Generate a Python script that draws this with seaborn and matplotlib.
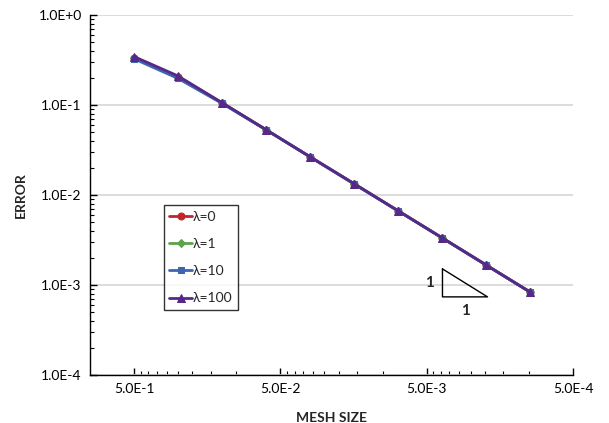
import matplotlib
matplotlib.use("Agg")
import matplotlib.pyplot as plt
import matplotlib.ticker as mticker
import seaborn as sns
import numpy as np

# ---- data ----
mesh_size = [0.5, 0.25, 0.125, 0.0625, 0.03125, 0.015625, 0.0078125,
             0.00390625, 0.001953125, 0.0009765625]
err_lam0 = [0.335, 0.205, 0.105, 0.053, 0.0265, 0.0133, 0.00665, 0.00333, 0.00166, 0.00083]
err_lam1 = [0.336, 0.206, 0.105, 0.053, 0.0265, 0.0133, 0.00665, 0.00333, 0.00166, 0.00083]
err_lam10 = [0.326, 0.197, 0.104, 0.0528, 0.0264, 0.0132, 0.00663, 0.00332, 0.00166, 0.00083]
err_lam100 = [0.345, 0.210, 0.106, 0.0531, 0.0265, 0.0133, 0.00665, 0.00333, 0.00166, 0.00083]
series_labels = ["λ=0", "λ=1", "λ=10", "λ=100"]
x_tick_vals = [5e-1, 5e-2, 5e-3, 5e-4]
x_tick_labels = ["5.0E-1", "5.0E-2", "5.0E-3", "5.0E-4"]
y_tick_vals = [1e0, 1e-1, 1e-2, 1e-3, 1e-4]
y_tick_labels = ["1.0E+0", "1.0E-1", "1.0E-2", "1.0E-3", "1.0E-4"]

sns.set_style("white")
plt.rcParams['font.family'] = ['Lato', 'DejaVu Sans']

fig = plt.figure(figsize=(6.09, 4.23), dpi=100)
ax = fig.add_axes([90/609, 48/423, 483/609, 360/423])

colors = ["#C0272D", "#5EA34A", "#3E65B2", "#56288A"]
markers = ["o", "D", "s", "^"]
msizes = [5, 4, 5, 5.5]
all_err = [err_lam0, err_lam1, err_lam10, err_lam100]

for err, lab, c, m, ms in zip(all_err, series_labels, colors, markers, msizes):
    sns.lineplot(x=mesh_size, y=err, ax=ax, color=c, marker=m, markersize=ms,
                 markeredgecolor=c, linewidth=2.0, label=lab, zorder=3)

ax.set_xscale("log")
ax.set_yscale("log")
ax.set_xlim(1.0, 5e-4)
ax.set_ylim(1e-4, 1e0)

# ticks
ax.xaxis.set_major_locator(mticker.FixedLocator(x_tick_vals))
ax.xaxis.set_major_formatter(mticker.FixedFormatter(x_tick_labels))
xminor = []
for base in [5e-1, 5e-2, 5e-3]:
    xminor += [base - k * base / 10 for k in range(1, 10)]
ax.xaxis.set_minor_locator(mticker.FixedLocator(xminor))
ax.xaxis.set_minor_formatter(mticker.NullFormatter())

ax.yaxis.set_major_locator(mticker.FixedLocator(y_tick_vals))
ax.yaxis.set_major_formatter(mticker.FixedFormatter(y_tick_labels))
ax.yaxis.set_minor_locator(mticker.LogLocator(base=10, subs=np.arange(2, 10)))
ax.yaxis.set_minor_formatter(mticker.NullFormatter())

ax.tick_params(axis="both", which="major", direction="in", length=5, width=1,
               labelsize=10, color="black", labelcolor="black", pad=6)
ax.tick_params(axis="both", which="minor", direction="in", length=3, width=0.8,
               color="black")
ax.tick_params(axis="x", which="both", bottom=True, top=False)
ax.tick_params(axis="y", which="both", left=True, right=False)

ax.grid(True, which="major", axis="y", color="#D9D9D9", linewidth=1.3, zorder=0)
ax.grid(False, axis="x")
ax.set_axisbelow(True)

for s in ["top", "right"]:
    ax.spines[s].set_visible(False)
for s in ["left", "bottom"]:
    ax.spines[s].set_color("black")
    ax.spines[s].set_linewidth(1.0)

ax.set_xlabel("MESH SIZE", fontsize=10, fontweight="bold", labelpad=12)
ax.set_ylabel("ERROR", fontsize=10, fontweight="bold", labelpad=8)

leg = ax.legend(loc="upper left", bbox_to_anchor=(0.153, 0.472), borderaxespad=0,
                fontsize=10, frameon=True, fancybox=False, edgecolor="black",
                handlelength=1.6, handletextpad=0.1, labelspacing=1.1,
                borderpad=0.4)
leg.get_frame().set_linewidth(1.0)

# slope triangle
tx1, tx2 = 0.0039, 0.00192
ty1, ty2 = 0.00151, 0.000738
ax.plot([tx1, tx1, tx2, tx1], [ty1, ty2, ty2, ty1], color="black", linewidth=1.0, zorder=4)
ax.annotate("1", xy=(tx1, np.sqrt(ty1 * ty2)), xytext=(-9, 0), textcoords="offset points",
            ha="center", va="center", fontsize=11, fontweight="bold")
ax.annotate("1", xy=(np.sqrt(tx1 * tx2), ty2), xytext=(0, -10), textcoords="offset points",
            ha="center", va="center", fontsize=11, fontweight="bold")

fig.savefig("out.png", dpi=100, facecolor="white")
